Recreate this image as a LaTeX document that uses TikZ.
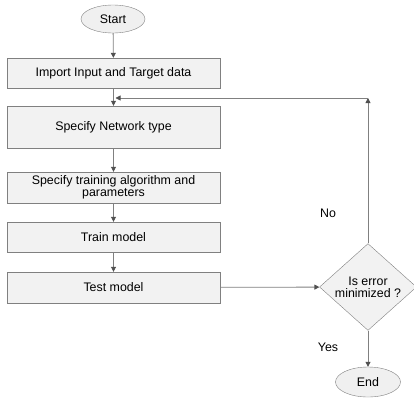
\documentclass[tikz,border=0pt]{standalone}
\usepackage{fontspec}
\setmainfont{Liberation Sans}
\usetikzlibrary{shapes.geometric,arrows.meta}

\begin{document}
\begin{tikzpicture}[x=1pt,y=1pt,yscale=-1,xscale=1,
  every node/.style={font=\fontsize{12.4}{12}\selectfont},
  procbox/.style={draw={rgb,255:red,128;green,128;blue,128},fill={rgb,255:red,242;green,242;blue,242},minimum width=213pt,inner sep=0pt,align=center},
  termnode/.style={ellipse,draw={rgb,255:red,128;green,128;blue,128},fill={rgb,255:red,240;green,240;blue,240},inner sep=0pt},
  flowline/.style={draw={rgb,255:red,128;green,128;blue,128},line width=0.8pt,-{Triangle[width=5pt,length=5pt,color={rgb,255:red,80;green,80;blue,80}]}},
  plainline/.style={draw={rgb,255:red,128;green,128;blue,128},line width=0.8pt}]
\useasboundingbox (0,0) rectangle (414,397);

%Shape: Ellipse [id:start]
\node [termnode,minimum width=64pt,minimum height=28pt] (start) at (113,19) {Start};
%Shape: Rectangle [id:import]
\node [procbox,minimum height=30pt] (import) at (113.5,73) {Import Input and Target data};
%Shape: Rectangle [id:network]
\node [procbox,minimum height=42pt] (network) at (113.5,127) {Specify Network type};
%Shape: Rectangle [id:training]
\node [procbox,minimum height=31pt] (training) at (113.5,187.5) {Specify training algorithm and\\parameters};
%Shape: Rectangle [id:train]
\node [procbox,minimum height=30pt] (train) at (113.5,237) {Train model};
%Shape: Rectangle [id:test]
\node [procbox,minimum height=31pt] (test) at (113.5,287.5) {Test model};
%Shape: Diamond [id:check]
\node [diamond,draw={rgb,255:red,128;green,128;blue,128},fill={rgb,255:red,242;green,242;blue,242},minimum width=97pt,minimum height=86pt,inner sep=0pt,align=center] (check) at (368,287) {Is error\\minimized ?};
%Shape: Ellipse [id:end]
\node [termnode,minimum width=65pt,minimum height=30pt] (end) at (368,382) {End};

%Straight Lines
\coordinate (corner) at (368,98);
\coordinate (join) at (113.5,98);
\draw [flowline] (start) -- (import);
\draw [flowline] (import) -- (network);
\draw [flowline] (network) -- (training);
\draw [flowline] (training) -- (train);
\draw [flowline] (train) -- (test);
\draw [flowline] (test) -- (check);
\draw [flowline] (check) -- (end);
\draw [flowline] (check.north) -- (corner);
\draw [flowline] (corner) -- ([xshift=2pt]join);

% Text Node
\node (no) at (328,213) {No};
% Text Node
\node (yes) at (328,347) {Yes};

\end{tikzpicture}
\end{document}
